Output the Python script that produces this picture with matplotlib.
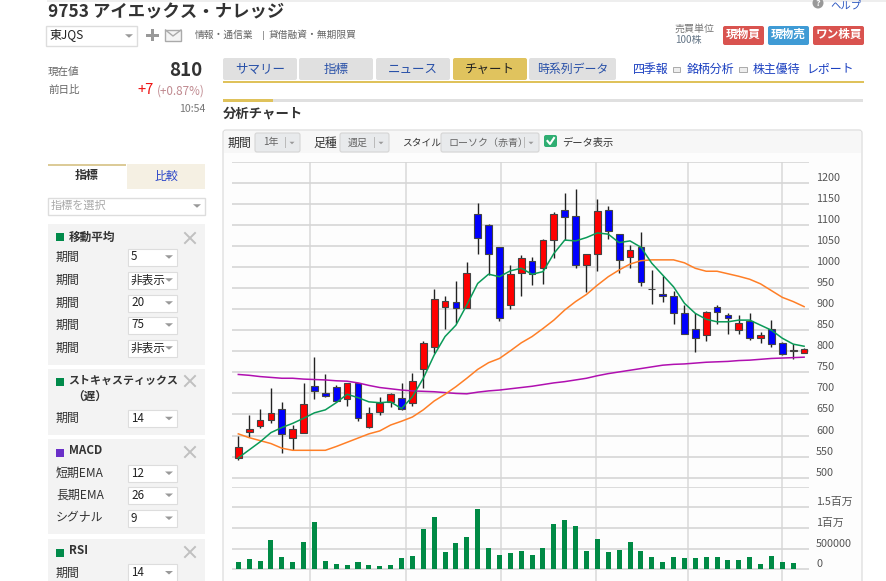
import matplotlib
matplotlib.use("Agg")
import matplotlib.pyplot as plt
import numpy as np
from matplotlib.patches import Rectangle, FancyBboxPatch, Polygon, Circle

plt.rcParams["font.family"] = ["Noto Sans CJK JP", "DejaVu Sans"]

W, H = 887, 581

# weekly candles
opens = [546, 608, 622, 636, 664, 595, 607, 717, 702, 715, 686, 724, 621, 657, 680, 690, 678, 759,
         811, 906, 918, 902, 1125, 1100, 1048, 910, 985, 1014, 997, 1064, 1135, 1121, 1006, 1030, 1135, 1078,
         1023, 1047, 948, 937, 931, 892, 854, 838, 904, 886, 850, 873, 832, 854, 819, 801, 797]
closes = [572, 615, 637, 654, 603, 615, 674, 706, 694, 683, 724, 641, 654, 678, 698, 664, 729, 819,
          923, 919, 902, 985, 1070, 1032, 880, 983, 1022, 983, 1064, 1125, 1119, 1006, 1030, 1133, 1085, 1017,
          1040, 964, 947, 931, 892, 842, 831, 894, 894, 880, 868, 832, 838, 818, 794, 803, 805]
highs = [599, 649, 664, 714, 679, 625, 724, 786, 745, 720, 725, 725, 668, 691, 700, 724, 748, 825,
         947, 931, 967, 1011, 1153, 1102, 1048, 1006, 1028, 1023, 1066, 1131, 1175, 1185, 1030, 1161, 1145, 1078,
         1052, 1084, 993, 979, 944, 910, 892, 895, 910, 892, 886, 890, 845, 874, 823, 817, 808]
lows = [543, 596, 619, 629, 558, 566, 607, 686, 692, 680, 670, 635, 619, 649, 668, 661, 670, 714,
        797, 854, 866, 902, 1031, 981, 873, 901, 931, 957, 960, 1022, 1064, 998, 941, 991, 1066, 986,
        998, 956, 912, 918, 865, 841, 799, 825, 865, 841, 841, 827, 820, 811, 792, 782, 795]

ma5 = [547, 566, 585, 607, 619, 629, 641, 654, 661, 678, 698, 690, 680, 678, 680, 664, 692, 736,
       791, 835, 862, 910, 961, 983, 977, 991, 997, 983, 989, 1032, 1064, 1062, 1070, 1081, 1078, 1058,
       1062, 1047, 1009, 981, 953, 914, 890, 876, 870, 870, 874, 874, 862, 850, 831, 817, 812]
ma20 = [604, 595, 588, 581, 570, 565, 565, 565, 565, 574, 584, 594, 604, 611, 625, 634, 644, 661,
        682, 698, 716, 736, 757, 773, 783, 801, 820, 835, 854, 874, 898, 918, 935, 957, 977, 993,
        1007, 1015, 1017, 1017, 1017, 1010, 997, 990, 990, 984, 978, 971, 960, 944, 928, 918, 906]
ma75 = [745, 743, 740, 738, 736, 736, 734, 733, 732, 730, 729, 725, 719, 714, 711, 708, 706, 705,
        704, 702, 700, 699, 703, 706, 708, 711, 714, 717, 721, 725, 728, 732, 736, 742, 747, 751,
        755, 759, 763, 767, 769, 770, 772, 774, 775, 776, 778, 779, 781, 783, 784, 785, 786]

volumes = [169000, 242000, 202000, 710000, 290000, 185000, 669000, 1153000, 210000, 129000, 105000,
           169000, 105000, 81000, 105000, 266000, 323000, 976000, 1274000, 411000, 629000, 774000,
           1452000, 524000, 347000, 387000, 444000, 347000, 524000, 1097000, 1194000, 1056000, 435000,
           726000, 427000, 468000, 653000, 444000, 306000, 169000, 306000, 266000, 266000, 306000,
           306000, 226000, 226000, 290000, 129000, 323000, 185000, 145000, 8000]

price_ticks = [500, 550, 600, 650, 700, 750, 800, 850, 900, 950, 1000, 1050, 1100, 1150, 1200, 1250]
price_labels = ["500", "550", "600", "650", "700", "750", "800", "850", "900", "950", "1000", "1050",
                "1100", "1150", "1200", ""]
volume_ticks = [0, 500000, 1000000, 1500000, 2000000]
volume_labels = ["0", "500000", "1百万", "1.5百万", ""]
month_positions = [6.62, 15.42, 24.12, 32.83, 41.35, 50.0]

fig = plt.figure(figsize=(W / 100, H / 100), dpi=100, facecolor="white")

# page furniture is drawn in pixel coordinates
page = fig.add_axes([0, 0, 1, 1])
page.set_xlim(0, W)
page.set_ylim(H, 0)
page.axis("off")


def box(x0, y0, x1, y1, fc, ec="none", lw=1.0, z=1):
    page.add_patch(Rectangle((x0, y0), x1 - x0, y1 - y0, fc=fc, ec=ec, lw=lw, zorder=z))


def rbox(x0, y0, x1, y1, fc, ec="none", lw=0.8, r=2, z=1):
    page.add_patch(FancyBboxPatch((x0 + r, y0 + r), x1 - x0 - 2 * r, y1 - y0 - 2 * r,
                                  boxstyle=f"round,pad={r},rounding_size={r}",
                                  fc=fc, ec=ec, lw=lw, zorder=z))


def label(x, y, s, size=8.6, color="#333333", ha="left", weight="normal"):
    page.text(x, y, s, fontsize=size, color=color, ha=ha, va="center", weight=weight, zorder=5)


def arrow(x, y, color="#999999", w=4, h=3.5):
    page.add_patch(Polygon([(x - w, y - h / 2), (x + w, y - h / 2), (x, y + h / 2)], fc=color, ec="none", zorder=5))


def select(x0, y0, x1, y1, s):
    box(x0, y0, x1, y1, "white", "#dddddd", 0.8, z=3)
    label(x0 + 3, (y0 + y1) / 2, s, 8.4, "#222222")
    arrow(x1 - 8, (y0 + y1) / 2)


def cross(x, y):
    page.plot([x - 5, x + 5], [y - 5, y + 5], color="#c0c0c0", lw=1.4, zorder=5)
    page.plot([x - 5, x + 5], [y + 5, y - 5], color="#c0c0c0", lw=1.4, zorder=5)


# header
box(47, 0, 887, 1.5, "#eeeeee")
label(48, 12, "9753 アイエックス・ナレッジ", 12.5, "#333333", weight="bold")
box(46.5, 25.5, 137.5, 46, "white", "#dddddd")
label(49, 35, "東JQS", 8.6, "#222222")
arrow(129, 36)
box(146, 33.5, 159, 36.5, "#999999")
box(151, 29, 154, 41, "#999999")
box(165.5, 30, 181, 40.5, "#f4f4f4", "#aaaaaa", 1.0)
page.plot([165.5, 173, 181], [30, 36, 30], color="#aaaaaa", lw=1.0, zorder=3)
label(195, 35, "情報・通信業", 7.0, "#666666")
box(263, 31, 263.8, 40, "#999999")
label(269, 35, "貸借融資・無期限買", 7.0, "#666666")

page.add_patch(Circle((818, 3), 5.5, fc="#999999", ec="none", zorder=3))
label(815.5, 3, "?", 6.5, "white", weight="bold")
label(830, 5.5, "ヘルプ", 7.5, "#2a55c0")
label(675, 29, "売買単位", 7.2, "#777777")
label(675, 40, "100株", 7.2, "#667788")
rbox(723, 26, 764, 45, "#d9534f")
rbox(768, 26, 809, 45, "#3f9bd5")
rbox(813, 26, 864, 45, "#d9534f")
label(743.5, 34, "現物買", 8.4, "white", ha="center", weight="bold")
label(788.5, 34, "現物売", 8.4, "white", ha="center", weight="bold")
label(838.5, 34, "ワン株買", 8.4, "white", ha="center", weight="bold")

# current price block
label(48, 72, "現在値", 7.6, "#666666")
label(202, 71, "810", 13.5, "#333333", ha="right", weight="bold")
label(48, 90, "前日比", 7.6, "#666666")
label(137, 90, "+7", 10.5, "#ee1111")
label(205, 91, "(+0.87%)", 8.4, "#c08a90", ha="right")
label(205, 109, "10:54", 7.6, "#777777", ha="right")

# tabs
for x0, x1, s, size in [(223, 297, "サマリー", 9.0), (299, 373, "指標", 9.0), (376, 450, "ニュース", 9.0),
                        (529, 616, "時系列データ", 8.6)]:
    rbox(x0, 58, x1, 80, "#e0e0e0")
    label((x0 + x1) / 2, 69, s, size, "#2850a8", ha="center")
rbox(453, 58, 527, 80, "#e0c35e")
label(490, 69, "チャート", 9.0, "#222222", ha="center")
box(223, 81, 864, 83, "#dfc25b")
label(633, 69, "四季報", 8.6, "#1a3fc0")
label(687, 69, "銘柄分析", 8.6, "#1a3fc0")
label(753, 69, "株主優待", 8.6, "#1a3fc0")
label(806, 69, "レポート", 8.6, "#1a3fc0")
box(673, 67, 680, 72, "#eeeeee", "#aaaaaa", 0.7)
box(739, 67, 747, 72, "#eeeeee", "#aaaaaa", 0.7)

box(223, 99, 863, 102, "#e0e0e0")
box(223, 99, 273, 102, "#dfc25b")
label(223, 114, "分析チャート", 9.6, "#333333", weight="bold")

# chart panel
rbox(223, 130, 862, 600, "#fdfdfd", "#dddddd", 0.9, r=3)
box(224, 131, 861, 153, "#f7f7f7")
for x, s, size in [(228, "期間", 8.6), (313, "足種", 8.6), (402, "スタイル", 7.0), (562, "データ表示", 7.4)]:
    label(x, 143, s, size, "#333333")
for x0, x1, s in [(255, 300, "1年"), (340, 389, "週足"), (441, 539, "ローソク（赤青）")]:
    rbox(x0, 133, x1, 152, "#e8eaec", "#d5d5d5")
    label(x0 + 8, 142.5, s, 7.2, "#666666")
    box(x1 - 14.5, 137, x1 - 14, 148, "#bbbbbb", z=3)
    arrow(x1 - 8, 143, "#999999", 2.5, 2.5)
rbox(544, 135, 557, 147, "#2fae72")
page.plot([547.5, 550, 554], [141, 144, 138], color="white", lw=1.5, zorder=5)

# left column
box(48, 164, 126, 165.5, "#dccb98")
label(87, 176, "指標", 8.6, "#333333", ha="center", weight="bold")
box(127, 164, 205, 189, "#f5f0e3")
label(166, 176, "比較", 8.6, "#2a45c8", ha="center")
box(48, 197.5, 205, 215, "white", "#dddddd")
label(51, 206, "指標を選択", 8.0, "#aaaaaa")
arrow(197, 206)

box(48, 224, 205, 365, "#f3f3f3")
box(56, 233, 64, 241, "#008a4a", z=3)
label(69, 237, "移動平均", 8.4, "#333333", weight="bold")
cross(190, 238)
for y, s in [(257, "5"), (280, "非表示"), (303, "20"), (325, "75"), (348, "非表示")]:
    label(56, y, "期間", 8.6, "#333333")
    select(128, y - 8.5, 177, y + 8.5, s)

box(48, 369, 205, 435, "#f3f3f3")
box(56, 378, 64, 386, "#008a4a", z=3)
label(68, 381, "ストキャスティックス", 7.9, "#333333", weight="bold")
label(72, 396, "（遅）", 8.4, "#333333", weight="bold")
cross(190, 381)
label(56, 418, "期間", 8.6, "#333333")
select(128, 410, 177, 427, "14")

box(48, 439, 205, 534, "#f3f3f3")
box(56, 449, 64, 457, "#6a30c8", z=3)
label(69, 451, "MACD", 8.4, "#333333", weight="bold")
cross(190, 452)
for y, name, s in [(473, "短期EMA", "12"), (495, "長期EMA", "26"), (518, "シグナル", "9")]:
    label(56, y, name, 8.6, "#333333")
    select(128, y - 8.5, 177, y + 9, s)

box(48, 539, 205, 581, "#f3f3f3")
box(56, 549, 64, 557, "#008a4a", z=3)
label(69, 551, "RSI", 8.4, "#333333", weight="bold")
cross(190, 552)
label(56, 573, "期間", 8.6, "#333333")
select(128, 564, 177, 581.5, "14")

# price and volume panels
x_left, x_right = 232, 809
price_top, price_bottom = 161.7, 486.7
volume_bottom = 581
idx = np.arange(len(opens))
xlim = (-0.58, 52.45)

ax = fig.add_axes([x_left / W, 1 - price_bottom / H, (x_right - x_left) / W, (price_bottom - price_top) / H])
vol = fig.add_axes([x_left / W, 0, (x_right - x_left) / W, (volume_bottom - price_bottom) / H])

for a, ticks, labels in [(ax, price_ticks, price_labels), (vol, volume_ticks, volume_labels)]:
    a.patch.set_alpha(0)
    a.set_xlim(*xlim)
    a.set_xticks(month_positions)
    a.set_yticks(ticks)
    a.set_yticklabels(labels, fontsize=7.8, color="#555555", va="bottom", ha="left")
    a.tick_params(axis="both", length=0, labelbottom=False, labelleft=False, labelright=True, pad=5.2)
    a.grid(axis="y", color="#d6d6d6", lw=1.2, zorder=0)
    a.grid(axis="x", color="#dcdcdc", lw=1.2, zorder=0)
    a.set_axisbelow(True)
    for spine in a.spines.values():
        spine.set_visible(False)

ax.set_ylim(478.6, 1250)
vol.set_ylim(-282000, 2000000)

opens = np.array(opens)
closes = np.array(closes)
colors = ["#ff0000" if c >= o else "#0000ff" for o, c in zip(opens, closes)]
ax.vlines(idx, lows, highs, color="#222222", lw=1.0, zorder=2)
ax.bar(idx, np.abs(closes - opens), bottom=np.minimum(opens, closes), width=0.62,
       color=colors, edgecolor="#444444", linewidth=0.8, zorder=3)
ax.plot(idx, ma75, color="#b010b0", lw=1.1, zorder=4)
ax.plot(idx, ma20, color="#ff7f27", lw=1.1, zorder=4)
ax.plot(idx, ma5, color="#0a9a58", lw=1.1, zorder=4)

vol.bar(idx, volumes, width=0.46, color="#008a45", zorder=3)

fig.savefig("out.png", dpi=100)
